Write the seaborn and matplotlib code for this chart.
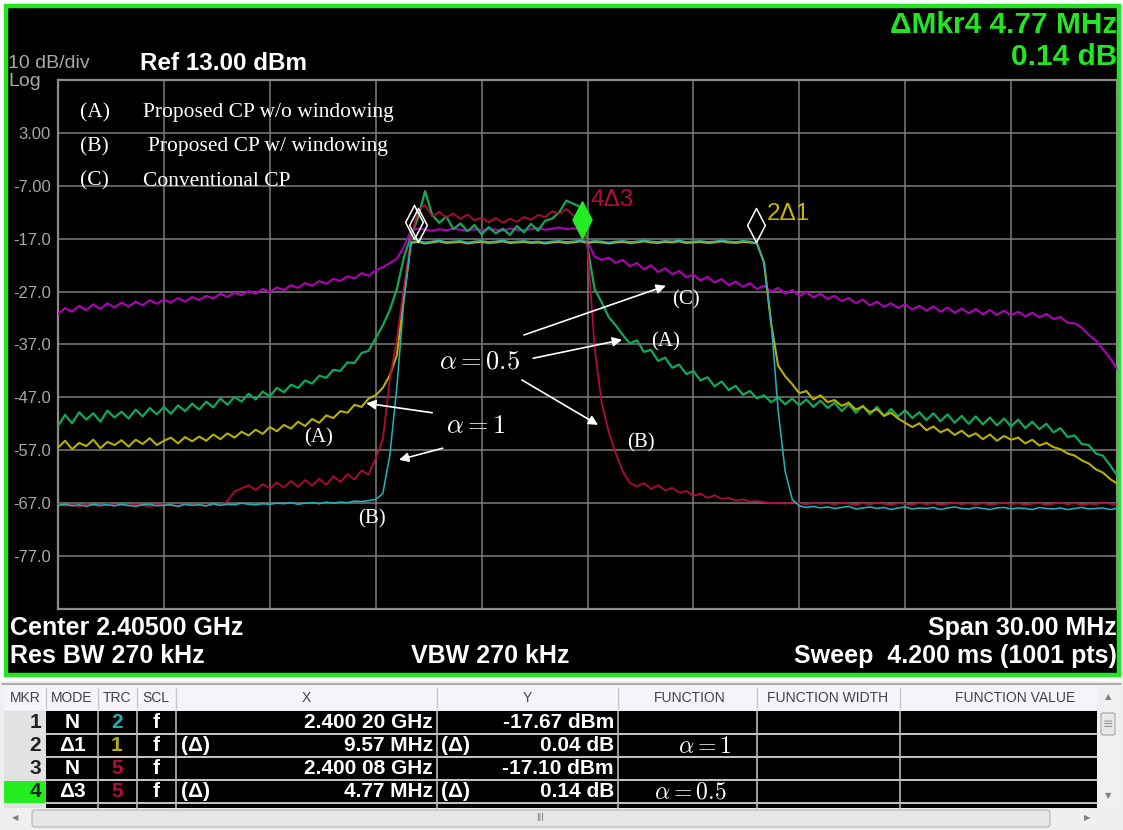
import numpy as np
import pandas as pd
import matplotlib
matplotlib.use("Agg")
import matplotlib.pyplot as plt
from matplotlib.path import Path
from matplotlib.patches import Rectangle, FancyBboxPatch
import seaborn as sns

# ---------------------------------------------------------------- sweep setup
CENTER_MHZ = 2405.0
SPAN_MHZ = 30.0
REF_DBM = 13.0
DB_PER_DIV = 10.0
N_DIV = 10
RBW_KHZ = 270
VBW_KHZ = 270
SWEEP_MS = 4.200
SWEEP_PTS = 1001

# display points of the sweep (0.2 MHz apart)
freq_mhz = np.round(2390.0 + 0.2 * np.arange(151), 2)

# ---------------------------------------------------------------- traces (dBm)
# (B) windowed, alpha = 1  -- trace 2
trace_b_alpha1 = [
    -67.4, -67.2, -67.5, -67.3, -67.6, -67.2, -67.4, -67.3, -67.5, -67.2,
    -67.4, -67.6, -67.3, -67.2, -67.5, -67.4, -67.3, -67.6, -67.2, -67.4,
    -67.3, -67.5, -67.1, -67.4, -67.2, -67.3, -67.0, -67.2, -67.3, -67.1,
    -67.2, -67.0, -67.1, -66.9, -67.2, -67.0, -66.9, -67.1, -66.8, -67.0,
    -66.8, -66.9, -66.6, -66.7, -66.5, -66.3, -65.2, -58.0, -45.0, -28.5,
    -17.6, -17.4, -17.7, -17.5, -17.3, -17.6, -17.5, -17.4, -17.7, -17.5,
    -17.4, -17.6, -17.5, -17.3, -17.6, -17.5, -17.4, -17.6, -17.5, -17.7,
    -17.5, -17.4, -17.6, -17.5, -17.3, -17.6, -17.4, -17.5, -17.7, -17.5,
    -17.4, -17.6, -17.5, -17.3, -17.5, -17.6, -17.4, -17.5, -17.3, -17.6,
    -17.5, -17.4, -17.6, -17.5, -17.3, -17.5, -17.6, -17.4, -17.5, -17.8,
    -21.5, -32.5, -49.5, -61.0, -66.3, -67.5, -67.8, -67.6, -67.9, -67.7,
    -68.0, -67.8, -67.6, -68.1, -67.9, -67.7, -68.0, -67.8, -68.2, -67.9,
    -67.7, -68.1, -67.9, -68.0, -67.8, -68.2, -67.9, -67.7, -68.0, -68.1,
    -67.8, -68.0, -68.2, -67.9, -67.8, -68.1, -67.9, -68.0, -68.2, -67.8,
    -68.0, -68.1, -67.9, -68.2, -68.0, -67.8, -68.1, -68.0, -67.9, -68.2, -68.0,
]

# (A) no windowing, alpha = 1  -- trace 1
trace_a_alpha1 = [
    -56.5, -55.2, -56.8, -55.6, -56.2, -55.0, -56.6, -55.4, -56.0, -55.1,
    -56.3, -55.0, -55.8, -54.7, -56.0, -55.2, -54.6, -55.7, -54.5, -55.3,
    -54.4, -55.2, -54.0, -54.9, -53.8, -54.6, -53.5, -54.2, -53.1, -53.9,
    -52.6, -53.4, -52.2, -52.9, -51.6, -52.4, -51.1, -51.8, -50.4, -50.9,
    -49.6, -49.9, -48.4, -48.8, -47.2, -46.6, -45.2, -42.8, -39.0, -28.0,
    -17.8, -17.6, -17.9, -17.7, -17.5, -17.8, -17.7, -17.6, -17.9, -17.7,
    -17.6, -17.8, -17.7, -17.5, -17.8, -17.7, -17.6, -17.8, -17.7, -17.9,
    -17.7, -17.6, -17.8, -17.7, -17.5, -17.8, -17.6, -17.7, -17.9, -17.7,
    -17.6, -17.8, -17.7, -17.5, -17.7, -17.8, -17.6, -17.7, -17.5, -17.8,
    -17.7, -17.6, -17.8, -17.7, -17.5, -17.7, -17.8, -17.6, -17.7, -17.9,
    -21.5, -33.0, -41.0, -43.0, -44.5, -46.2, -45.8, -47.4, -46.6, -47.9,
    -47.5, -48.6, -48.0, -49.3, -48.7, -49.8, -49.2, -50.5, -49.9, -51.0,
    -51.8, -52.6, -51.9, -53.2, -52.5, -53.6, -53.0, -54.1, -53.3, -54.4,
    -53.8, -54.9, -54.0, -55.2, -54.3, -55.0, -54.6, -55.7, -55.0, -56.1,
    -55.6, -56.4, -56.8, -57.6, -58.0, -58.9, -59.5, -60.6, -61.2, -62.4, -63.3,
]

# (A) no windowing, alpha = 0.5
trace_a_alpha05 = [
    -52.4, -50.3, -51.9, -49.8, -51.2, -50.0, -51.6, -49.5, -50.8, -49.7,
    -51.0, -49.3, -50.6, -49.0, -50.2, -48.8, -50.1, -48.5, -49.6, -48.2,
    -49.3, -47.8, -48.9, -47.2, -48.4, -46.9, -47.8, -46.3, -47.4, -45.9,
    -46.8, -45.2, -46.0, -44.6, -45.2, -43.8, -44.4, -42.9, -43.3, -41.8,
    -42.0, -40.4, -40.5, -38.6, -38.2, -35.8, -33.4, -30.5, -26.5, -20.5,
    -16.5, -13.0, -8.0, -12.5, -14.0, -12.8, -15.2, -14.1, -15.6, -14.4,
    -16.2, -14.8, -16.0, -15.1, -16.3, -14.6, -15.8, -14.2, -15.5, -13.6,
    -13.2, -12.0, -9.8, -10.4, -11.0, -18.5, -26.5, -29.0, -31.8, -33.4,
    -35.2, -36.8, -36.2, -38.4, -38.0, -40.1, -39.5, -41.4, -40.8, -42.6,
    -42.0, -43.8, -43.2, -44.9, -44.0, -45.6, -44.8, -46.5, -45.8, -47.2,
    -46.6, -47.9, -47.0, -48.3, -47.2, -48.5, -47.4, -48.8, -47.6, -49.0,
    -48.0, -49.6, -48.3, -49.9, -48.6, -50.2, -48.8, -50.5, -49.2, -50.6,
    -49.4, -50.9, -49.8, -51.3, -50.0, -51.5, -50.2, -51.8, -50.5, -52.0,
    -50.6, -52.1, -50.8, -52.3, -51.0, -52.5, -51.2, -52.8, -51.6, -53.0,
    -52.0, -53.6, -52.8, -54.5, -54.2, -55.8, -56.0, -57.6, -58.0, -59.8, -61.7,
]

# (B) windowed, alpha = 0.5  -- trace 5
trace_b_alpha05 = [
    -67.2, -67.5, -67.3, -67.6, -67.2, -67.4, -67.5, -67.1, -67.4, -67.3,
    -67.5, -67.2, -67.4, -67.6, -67.3, -67.1, -67.4, -67.5, -67.2, -67.4,
    -67.3, -67.5, -67.2, -67.4, -66.6, -64.8, -64.2, -63.6, -64.5, -63.4,
    -64.2, -63.1, -64.0, -62.8, -63.9, -62.6, -63.7, -62.4, -63.5, -61.9,
    -63.0, -61.5, -62.5, -60.8, -61.6, -58.5, -55.0, -43.5, -36.0, -26.0,
    -17.0, -11.5, -10.6, -12.8, -11.9, -13.0, -12.2, -13.3, -12.4, -13.5,
    -13.0, -13.9, -13.1, -14.0, -13.2, -13.8, -12.9, -13.4, -12.5, -12.9,
    -11.8, -12.3, -11.4, -12.6, -13.4, -18.5, -37.5, -48.0, -53.5, -57.6,
    -61.0, -63.2, -63.8, -63.2, -64.3, -63.6, -64.6, -64.1, -65.0, -64.7,
    -65.6, -65.2, -66.0, -65.5, -66.2, -66.0, -66.5, -66.3, -66.7, -66.6,
    -66.8, -67.0, -66.9, -67.1, -66.8, -67.0, -67.2, -66.9, -67.1, -67.0,
    -67.2, -66.9, -67.1, -67.3, -67.0, -67.2, -66.9, -67.1, -67.3, -67.0,
    -67.1, -67.3, -66.9, -67.2, -67.0, -67.3, -67.1, -66.9, -67.2, -67.0,
    -67.2, -67.0, -67.3, -67.1, -66.9, -67.2, -67.0, -67.3, -67.1, -67.0,
    -67.3, -67.1, -66.9, -67.2, -67.0, -67.3, -67.1, -67.2, -66.9, -67.1, -67.2,
]

# (C) conventional CP
trace_c_conv = [
    -31.2, -30.1, -30.8, -29.7, -30.5, -29.4, -30.3, -29.2, -30.0, -29.1,
    -29.8, -28.9, -29.6, -28.6, -29.3, -28.5, -29.1, -28.2, -28.9, -28.0,
    -28.6, -27.8, -28.3, -27.4, -28.0, -27.2, -27.7, -26.9, -27.4, -26.5,
    -27.1, -26.2, -26.7, -25.8, -26.3, -25.4, -25.9, -25.0, -25.5, -24.6,
    -25.0, -24.1, -24.5, -23.5, -24.0, -23.0, -22.4, -21.6, -20.8, -18.5,
    -15.4, -15.1, -15.3, -15.5, -15.2, -15.4, -15.1, -15.3, -15.5, -15.2,
    -15.4, -15.2, -15.3, -15.5, -15.1, -15.3, -15.4, -15.2, -15.0, -15.3,
    -15.1, -14.9, -15.2, -15.0, -15.3, -17.5, -20.4, -21.0, -20.6, -21.6,
    -21.0, -22.2, -21.6, -22.8, -22.0, -23.3, -22.6, -23.7, -23.1, -24.3,
    -23.8, -24.9, -24.2, -25.3, -24.6, -25.8, -25.1, -26.1, -25.4, -26.5,
    -25.9, -27.0, -26.3, -27.4, -26.7, -27.8, -27.1, -28.1, -27.4, -28.4,
    -27.8, -28.8, -28.2, -29.2, -28.5, -29.6, -28.9, -29.9, -29.2, -30.1,
    -29.4, -30.4, -29.7, -30.6, -29.8, -30.8, -30.0, -31.0, -30.2, -31.1,
    -30.3, -31.3, -30.5, -31.4, -30.6, -31.5, -30.8, -31.7, -31.0, -31.9,
    -31.2, -32.2, -31.8, -32.9, -33.0, -33.8, -35.2, -36.2, -37.9, -39.5, -41.6,
]

trace_names = ["C conventional", "A alpha=0.5", "A alpha=1", "B alpha=0.5", "B alpha=1"]
trace_values = [trace_c_conv, trace_a_alpha05, trace_a_alpha1, trace_b_alpha05, trace_b_alpha1]
trace_colors = ["#b000b8", "#12a85a", "#b8b000", "#b8083c", "#1fb2b4"]
trace_widths = [1.5, 1.6, 1.5, 1.25, 1.15]

# ---------------------------------------------------------------- markers
mkr_ids = [1, 2, 3, 4]
mkr_modes = ["N", "Δ1", "N", "Δ3"]
mkr_trc = ["2", "1", "5", "5"]
mkr_trc_colors = ["#1fb2b4", "#b8b000", "#b8083c", "#b8083c"]
mkr_ref_freq_ghz = {1: 2.40020, 3: 2.40008}
mkr_ref_level = {1: -17.67, 3: -17.10}
mkr_delta_mhz = {2: 9.57, 4: 4.77}
mkr_delta_db = {2: 0.04, 4: 0.14}
mkr_delta_ref = {2: 1, 4: 3}

# ---------------------------------------------------------------- figure
sns.set_theme(style="dark")
plt.rcParams["font.family"] = ["Liberation Sans", "DejaVu Sans"]
plt.rcParams["mathtext.fontset"] = "cm"

W, H = 1123, 830
fig = plt.figure(figsize=(W / 100, H / 100), dpi=100, facecolor="white")

bg = fig.add_axes([0, 0, 1, 1], zorder=0)
bg.set_xlim(0, W)
bg.set_ylim(H, 0)
bg.axis("off")

# instrument screen panel with green frame
bg.add_patch(Rectangle((6, 6), 1113, 669, facecolor="black", edgecolor="#22e622", lw=3.2))

SANS = ["Liberation Sans", "DejaVu Sans"]
SERIF = ["Liberation Serif", "DejaVu Serif"]

bg.text(8, 64, "10 dB/div", color="#a8a8a8", fontsize=14, va="center", ha="left", family=SANS)
bg.text(8, 81, "Log", color="#a8a8a8", fontsize=14, va="center", ha="left", family=SANS)
bg.text(140, 63, f"Ref {REF_DBM:.2f} dBm", color="white", fontsize=17.5, fontweight="bold",
        va="center", ha="left", family=SANS)

d4 = mkr_delta_mhz[4]
bg.text(1117, 25, f"ΔMkr4 {d4:.2f} MHz", color="#22e622", fontsize=21.5, fontweight="bold",
        va="center", ha="right", family=SANS)
bg.text(1117, 57, f"{mkr_delta_db[4]:.2f} dB", color="#22e622", fontsize=21.5, fontweight="bold",
        va="center", ha="right", family=SANS)

bottom_kw = dict(color="white", fontsize=18, fontweight="bold", va="center", family=SANS)
bg.text(10, 628, f"Center {CENTER_MHZ / 1000:.5f} GHz", ha="left", **bottom_kw)
bg.text(1117, 628, f"Span {SPAN_MHZ:.2f} MHz", ha="right", **bottom_kw)
bg.text(10, 656, f"Res BW {RBW_KHZ} kHz", ha="left", **bottom_kw)
bg.text(490, 656, f"VBW {VBW_KHZ} kHz", ha="center", **bottom_kw)
bg.text(1117, 656, f"Sweep  {SWEEP_MS:.3f} ms ({SWEEP_PTS} pts)", ha="right", **bottom_kw)

# ---------------------------------------------------------------- marker table
bg.add_patch(Rectangle((0, 681), W, H - 681, facecolor="#efefef", edgecolor="none"))
bg.plot([2, 1121], [684, 684], color="#a0a0a0", lw=1.2)
bg.add_patch(Rectangle((4, 686), 1093, 24, facecolor="#f6f4f8", edgecolor="none"))
col_edges = [46, 98, 137, 176, 437, 618, 757, 900, 1097]
headers = ["MKR", "MODE", "TRC", "SCL", "X", "Y", "FUNCTION", "FUNCTION WIDTH", "FUNCTION VALUE"]
hdr_centers = [25, 72, 117, 156, 306, 527, 690, 828, 1015]
for xc, h in zip(hdr_centers, headers):
    bg.text(xc, 698, h, color="#404050", fontsize=10, ha="center", va="center", family=SANS)
for xe in col_edges[:-1]:
    bg.plot([xe, xe], [688, 708], color="#c8c8c8", lw=1.0)

row_top = 711
row_h = 23
bg.add_patch(Rectangle((46, row_top), 1051, 97, facecolor="black", edgecolor="none"))
bg.add_patch(Rectangle((4, row_top), 42, 97, facecolor="#e2e2e2", edgecolor="none"))
for r in range(1, 5):
    y = row_top + r * row_h
    bg.plot([46, 1097], [y, y], color="#c8c8c8", lw=1.4)
for xe in col_edges[1:-1]:
    bg.plot([xe, xe], [row_top, 808], color="#b8b8b8", lw=1.2)

cell_kw = dict(fontsize=15, fontweight="bold", va="center", family=SANS)
for r, mid in enumerate(mkr_ids):
    yc = row_top + r * row_h + row_h / 2
    if mid == 4:
        bg.add_patch(Rectangle((4, row_top + r * row_h + 1), 42, row_h - 1, facecolor="#22ee22",
                               edgecolor="none"))
    bg.text(41, yc, str(mid), color="#202020", ha="right", **cell_kw)
    bg.text(72, yc, mkr_modes[r], color="white", ha="center", **cell_kw)
    bg.text(117, yc, mkr_trc[r], color=mkr_trc_colors[r], ha="center", **cell_kw)
    bg.text(156, yc, "f", color="white", ha="center", **cell_kw)
    if mid in mkr_ref_freq_ghz:
        ghz = f"{mkr_ref_freq_ghz[mid]:.5f}"
        xtxt = f"{ghz[:5]} {ghz[5:]} GHz"
        ytxt = f"{mkr_ref_level[mid]:.2f} dBm"
    else:
        bg.text(181, yc, "(Δ)", color="white", ha="left", **cell_kw)
        bg.text(441, yc, "(Δ)", color="white", ha="left", **cell_kw)
        xtxt = f"{mkr_delta_mhz[mid]:.2f} MHz"
        ytxt = f"{mkr_delta_db[mid]:.2f} dB"
    bg.text(433, yc, xtxt, color="white", ha="right", **cell_kw)
    bg.text(614, yc, ytxt, color="white", ha="right", **cell_kw)

bg.text(705, row_top + 1.5 * row_h + 1, r"$\alpha=1$", color="white", fontsize=17, ha="center", va="center")
bg.text(690, row_top + 3.5 * row_h + 1, r"$\alpha=0.5$", color="white", fontsize=17, ha="center", va="center")

# scroll bars
bg.add_patch(Rectangle((1097, 686), 24, 122, facecolor="#f0f0f0", edgecolor="none"))
bg.text(1108, 697, "▲", color="#808080", fontsize=6, ha="center", va="center", family=["DejaVu Sans"])
bg.text(1108, 796, "▼", color="#808080", fontsize=6, ha="center", va="center", family=["DejaVu Sans"])
bg.add_patch(FancyBboxPatch((1101, 713), 14, 22, boxstyle="round,pad=0,rounding_size=2",
                            facecolor="#e8e8e8", edgecolor="#a8a8a8", lw=0.8))
bg.text(1108, 724, "≡", color="#909090", fontsize=9, ha="center", va="center", family=["DejaVu Sans"])
bg.add_patch(FancyBboxPatch((32, 810), 1018, 17, boxstyle="round,pad=0,rounding_size=3",
                            facecolor="#e6e6e6", edgecolor="#b4b4b4", lw=0.8))
bg.text(15, 818, "◀", color="#808080", fontsize=6, ha="center", va="center", family=["DejaVu Sans"])
bg.text(1087, 818, "▶", color="#808080", fontsize=6, ha="center", va="center", family=["DejaVu Sans"])
bg.text(540, 818, "III", color="#808080", fontsize=7, ha="center", va="center", family=SANS)

# ---------------------------------------------------------------- spectrum axes
ax = fig.add_axes([58 / W, (H - 609) / H, 1059 / W, 529 / H], zorder=1)
ax.set_facecolor("black")

df = pd.DataFrame({
    "freq": np.tile(freq_mhz, len(trace_names)),
    "level": np.concatenate([np.asarray(v, dtype=float) for v in trace_values]),
    "trace": np.repeat(trace_names, len(freq_mhz)),
})
sns.lineplot(data=df, x="freq", y="level", hue="trace", hue_order=trace_names,
             palette=dict(zip(trace_names, trace_colors)),
             size="trace", size_order=trace_names, sizes=dict(zip(trace_names, trace_widths)),
             estimator=None, sort=False, legend=False, ax=ax, zorder=3)

f_lo = CENTER_MHZ - SPAN_MHZ / 2
f_hi = CENTER_MHZ + SPAN_MHZ / 2
y_top = REF_DBM
y_bot = REF_DBM - N_DIV * DB_PER_DIV
ax.set_xlim(f_lo, f_hi)
ax.set_ylim(y_bot, y_top)
ax.set_xticks(np.linspace(f_lo, f_hi, N_DIV + 1))
ax.set_xticklabels([])
yt = np.linspace(y_bot, y_top, N_DIV + 1)
ax.set_yticks(yt)


def fmt_level(v):
    if v in (y_top, y_bot):
        return ""
    return f"{v:.2f}" if abs(v) < 10 else f"{v:.1f}"


ax.set_yticklabels([fmt_level(v) for v in yt])
ax.tick_params(axis="both", length=0, pad=5, labelsize=12, labelcolor="#a8a8a8")
for lab in ax.get_yticklabels():
    lab.set_family(SANS)
ax.grid(True, color="#7c7c7c", lw=1.1)
ax.set_axisbelow(True)
for sp in ax.spines.values():
    sp.set_color("#8c8c8c")
    sp.set_linewidth(1.6)
ax.set_xlabel("")
ax.set_ylabel("")

# marker diamonds (bottom tip sits on the trace point)
diamond = Path([(0, 0), (0.52, 1), (0, 2), (-0.52, 1), (0, 0)],
               [Path.MOVETO, Path.LINETO, Path.LINETO, Path.LINETO, Path.CLOSEPOLY])
mk_pos = {}
for mid in (1, 3):
    mk_pos[mid] = (mkr_ref_freq_ghz[mid] * 1000, mkr_ref_level[mid])
for mid in (2, 4):
    rf, rl = mk_pos[mkr_delta_ref[mid]]
    mk_pos[mid] = (rf + mkr_delta_mhz[mid], rl + mkr_delta_db[mid])

for mid in (3, 1, 2):
    fx, ly = mk_pos[mid]
    ax.plot([fx], [ly], marker=diamond, markersize=49, markerfacecolor="none",
            markeredgecolor="white", markeredgewidth=1.1, zorder=5)
fx, ly = mk_pos[4]
ax.plot([fx], [ly], marker=diamond, markersize=53, markerfacecolor="#22ee22",
        markeredgecolor="#22ee22", markeredgewidth=1.0, zorder=6)
ax.annotate("4Δ3", mk_pos[4], xytext=(6, 28), textcoords="offset points", color="#b8083c",
            fontsize=17.5, ha="left", va="center", family=SANS, zorder=6)
ax.annotate("2Δ1", mk_pos[2], xytext=(8, 20), textcoords="offset points", color="#c8b400",
            fontsize=17.5, ha="left", va="center", family=SANS, zorder=6)

# curve annotations
arrow_kw = dict(arrowstyle="-|>", color="white", lw=1.2, mutation_scale=14, shrinkA=0, shrinkB=0)
arrows = [
    ((2403.20, -35.2), (2407.22, -25.9)),
    ((2403.46, -39.6), (2405.98, -36.1)),
    ((2403.14, -43.7), (2405.30, -52.2)),
    ((2400.60, -49.9), (2398.73, -48.1)),
    ((2400.90, -56.6), (2399.66, -58.8)),
]
for tail, head in arrows:
    ax.annotate("", xy=head, xytext=tail, arrowprops=arrow_kw, zorder=7)

ax.text(2401.93, -40.3, r"$\alpha=0.5$", color="white", fontsize=19, ha="center", va="center", zorder=7)
ax.text(2401.84, -52.4, r"$\alpha=1$", color="white", fontsize=19, ha="center", va="center", zorder=7)
lbl_kw = dict(color="white", fontsize=15, ha="center", va="center", family=SERIF, zorder=7)
ax.text(2407.80, -28.6, "(C)", **lbl_kw)
ax.text(2407.22, -36.5, "(A)", **lbl_kw)
ax.text(2406.50, -55.6, "(B)", **lbl_kw)
ax.text(2397.37, -54.7, "(A)", **lbl_kw)
ax.text(2398.90, -70.0, "(B)", **lbl_kw)

# legend of curve labels
fg = fig.add_axes([0, 0, 1, 1], zorder=2)
fg.set_xlim(0, W)
fg.set_ylim(H, 0)
fg.axis("off")
fg.patch.set_alpha(0)
leg_kw = dict(color="white", fontsize=15.5, ha="left", va="center", family=SERIF)
legend_rows = [("(A)", "Proposed CP w/o windowing", 143, 113),
               ("(B)", "Proposed CP w/ windowing", 148, 147),
               ("(C)", "Conventional CP", 143, 181)]
for tag, desc, xd, yc in legend_rows:
    fg.text(80, yc, tag, **leg_kw)
    fg.text(xd, yc, desc, **leg_kw)

fig.savefig("out.png", dpi=100, facecolor="white")
